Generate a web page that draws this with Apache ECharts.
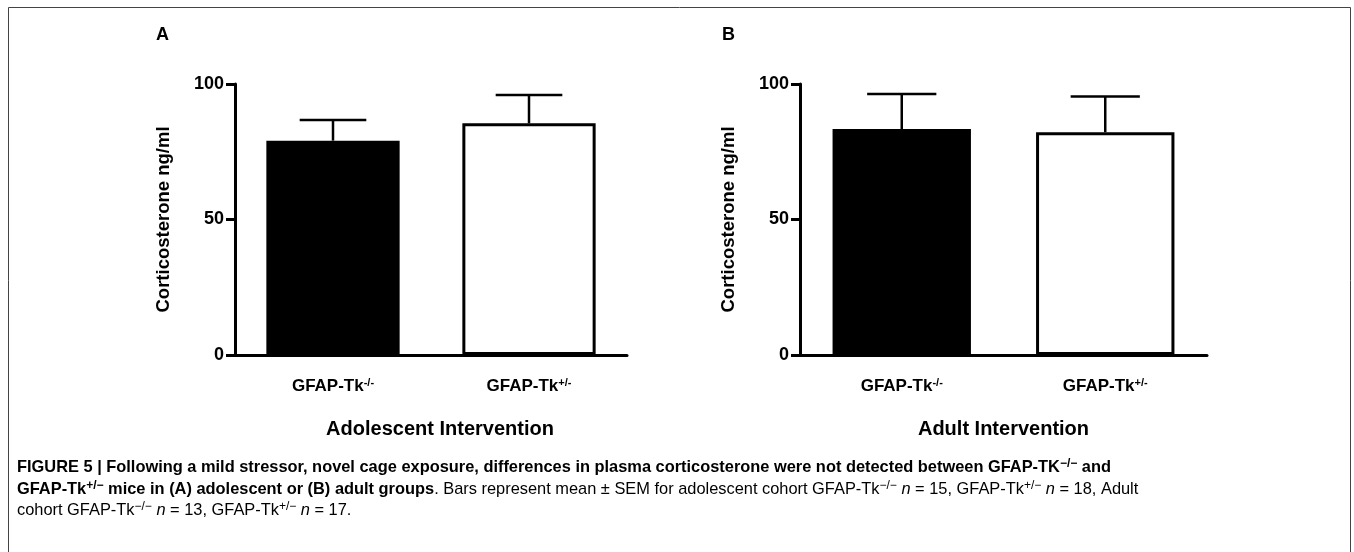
<!DOCTYPE html>
<html>
<head>
<meta charset="utf-8">
<script src="https://cdn.jsdelivr.net/npm/echarts@6/dist/echarts.min.js"></script>
<style>
  html, body { margin: 0; padding: 0; background: #fff; }
  #main { width: 1354px; height: 552px; }
</style>
</head>
<body>
<div id="main"></div>
<script>
// data
const categories = ["GFAP-Tk-/-", "GFAP-Tk+/-"];
const catSup = ["-/-", "+/-"];
const adolescentMean = [79.1, 85.5];
const adolescentSem = [7.6, 10.4];
const adultMean = [83.4, 82.2];
const adultSem = [12.9, 13.2];
const yTicks = [0, 50, 100];
const barColors = ["#000000", "#ffffff"];

const FONT = "'Liberation Sans', Arial, sans-serif";

const chart = echarts.init(document.getElementById("main"));

function xAxisFor(gridIndex, name, pad) {
  return {
    type: "category",
    gridIndex: gridIndex,
    data: categories,
    name: name,
    nameLocation: "middle",
    nameGap: 64,
    nameTextStyle: {
      fontFamily: FONT, fontWeight: "bold", fontSize: 20, color: "#000",
      padding: pad
    },
    axisLine: { lineStyle: { color: "#000", width: 3 } },
    axisTick: { alignWithLabel: true, length: 9, lineStyle: { width: 3, color: "#000" } },
    axisLabel: {
      margin: 22,
      formatter: function (v, i) {
        return "{m|GFAP-Tk}{s|" + catSup[i] + "}";
      },
      rich: {
        m: { fontFamily: FONT, fontWeight: "bold", fontSize: 17, color: "#000" },
        s: { fontFamily: FONT, fontWeight: "bold", fontSize: 11, color: "#000", verticalAlign: "top", padding: [0, 0, 8, 0] }
      }
    }
  };
}

function yAxisFor(gridIndex) {
  return {
    type: "value",
    gridIndex: gridIndex,
    min: yTicks[0],
    max: yTicks[yTicks.length - 1],
    interval: 50,
    name: "Corticosterone ng/ml",
    nameLocation: "middle",
    nameRotate: 90,
    nameGap: 62,
    nameTextStyle: { fontFamily: FONT, fontWeight: "bold", fontSize: 18.5, color: "#000" },
    axisLine: { show: true, lineStyle: { color: "#000", width: 3 } },
    axisTick: { show: true, length: 9, lineStyle: { width: 3, color: "#000" } },
    axisLabel: { margin: 11, fontFamily: FONT, fontWeight: "bold", fontSize: 18, color: "#000" },
    splitLine: { show: false }
  };
}

function barSeries(idx, means) {
  return {
    type: "bar",
    xAxisIndex: idx,
    yAxisIndex: idx,
    barWidth: "68%",
    data: means.map(function (v, i) {
      return { value: v, itemStyle: { color: barColors[i], borderColor: "#000", borderWidth: 3 } };
    }),
    silent: true
  };
}

// 误差线，只画上半部分
function errorSeries(idx, means, sems) {
  return {
    type: "custom",
    xAxisIndex: idx,
    yAxisIndex: idx,
    silent: true,
    z: 1,
    data: means.map(function (v, i) { return [i, v, v + sems[i]]; }),
    renderItem: function (params, api) {
      const base = api.coord([api.value(0), api.value(1)]);
      const top = api.coord([api.value(0), api.value(2)]);
      const half = api.size([1, 0])[0] * 0.17;
      const st = { stroke: "#000", lineWidth: 2.5 };
      return {
        type: "group",
        children: [
          { type: "line", shape: { x1: base[0], y1: base[1], x2: top[0], y2: top[1] }, style: st },
          { type: "line", shape: { x1: top[0] - half, y1: top[1], x2: top[0] + half, y2: top[1] }, style: st }
        ]
      };
    }
  };
}

const capRich = {
  b: { fontFamily: FONT, fontWeight: "bold", fontSize: 16.4, color: "#222" },
  bs: { fontFamily: FONT, fontWeight: "bold", fontSize: 12, color: "#222", verticalAlign: "top", padding: [0, 0, 6, 0] },
  r: { fontFamily: FONT, fontSize: 16.4, color: "#444" },
  rs: { fontFamily: FONT, fontSize: 12, color: "#444", verticalAlign: "top", padding: [0, 0, 6, 0] },
  i: { fontFamily: FONT, fontStyle: "italic", fontSize: 16.4, color: "#444" }
};

const captionLines = [
  "{b|FIGURE 5 | Following a mild stressor, novel cage exposure, differences in plasma corticosterone were not detected between GFAP-TK}{bs|\u2212/\u2212}{b| and}",
  "{b|GFAP-Tk}{bs|+/\u2212}{b| mice in (A) adolescent or (B) adult groups}{r|. Bars represent mean \u00b1 SEM for adolescent cohort GFAP-Tk}{rs|\u2212/\u2212}{r| }{i|n}{r| = 15, GFAP-Tk}{rs|+/\u2212}{r| }{i|n}{r| = 18, Adult}",
  "{r|cohort GFAP-Tk}{rs|\u2212/\u2212}{r| }{i|n}{r| = 13, GFAP-Tk}{rs|+/\u2212}{r| }{i|n}{r| = 17.}"
];
const captionY = [467, 489, 510];

const graphics = [
  { type: "rect", shape: { x: 8.5, y: 7.5, width: 1342, height: 560 }, style: { fill: "none", stroke: "#444", lineWidth: 1 }, silent: true },
  { type: "text", x: 156, y: 35, style: { text: "A", fontFamily: FONT, fontWeight: "bold", fontSize: 18, fill: "#000", verticalAlign: "middle" } },
  { type: "text", x: 722, y: 35, style: { text: "B", fontFamily: FONT, fontWeight: "bold", fontSize: 18, fill: "#000", verticalAlign: "middle" } }
];
captionLines.forEach(function (t, k) {
  graphics.push({ type: "text", x: 17, y: captionY[k], style: { text: t, rich: capRich, verticalAlign: "middle" } });
});

const option = {
  animation: false,
  backgroundColor: "#fff",
  grid: [
    { left: 235, top: 84, width: 392, height: 271 },
    { left: 800, top: 84, width: 407, height: 271 }
  ],
  xAxis: [
    xAxisFor(0, "Adolescent Intervention", [0, 0, 0, 18]),
    xAxisFor(1, "Adult Intervention", [0, 0, 0, 0])
  ],
  yAxis: [yAxisFor(0), yAxisFor(1)],
  series: [
    errorSeries(0, adolescentMean, adolescentSem),
    barSeries(0, adolescentMean),
    errorSeries(1, adultMean, adultSem),
    barSeries(1, adultMean)
  ],
  graphic: graphics
};
chart.setOption(option);
</script>
</body>
</html>
